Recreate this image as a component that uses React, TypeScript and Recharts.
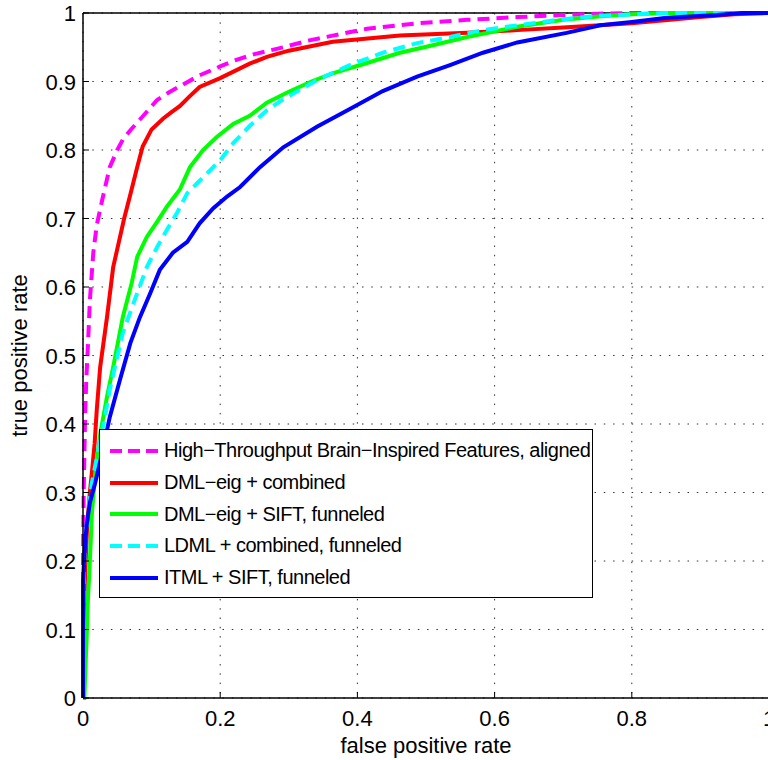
import { LineChart, Line, XAxis, YAxis, CartesianGrid, ReferenceLine } from 'recharts'

// ── ROC curves (false positive rate / true positive rate) ──

const X_TICKS = [0, 0.2, 0.4, 0.6, 0.8, 1]
const Y_TICKS = [0, 0.1, 0.2, 0.3, 0.4, 0.5, 0.6, 0.7, 0.8, 0.9, 1]

const htFpr = [0, 0, 0.001, 0.003, 0.005, 0.007, 0.01, 0.015, 0.02, 0.028, 0.039, 0.05, 0.058, 0.07, 0.079, 0.095, 0.108, 0.125, 0.141, 0.17, 0.2, 0.219, 0.25, 0.292, 0.33, 0.364, 0.414, 0.487, 0.56, 0.633, 0.7, 0.75, 0.8, 1]
const htTpr = [0, 0.2, 0.3, 0.41, 0.47, 0.51, 0.58, 0.65, 0.69, 0.727, 0.775, 0.8, 0.815, 0.83, 0.84, 0.858, 0.873, 0.884, 0.893, 0.909, 0.922, 0.93, 0.94, 0.95, 0.96, 0.967, 0.977, 0.985, 0.99, 0.994, 0.997, 0.999, 1, 1]

const dmlCombFpr = [0, 0.001, 0.003, 0.006, 0.01, 0.014, 0.017, 0.02, 0.025, 0.035, 0.044, 0.051, 0.06, 0.069, 0.079, 0.087, 0.1, 0.117, 0.13, 0.141, 0.155, 0.17, 0.2, 0.243, 0.268, 0.3, 0.364, 0.462, 0.56, 0.633, 0.7, 0.8, 0.9, 0.95, 1]
const dmlCombTpr = [0, 0.1, 0.18, 0.25, 0.3, 0.34, 0.372, 0.42, 0.483, 0.556, 0.629, 0.66, 0.7, 0.735, 0.775, 0.805, 0.83, 0.846, 0.856, 0.864, 0.878, 0.892, 0.905, 0.926, 0.936, 0.945, 0.958, 0.967, 0.971, 0.975, 0.979, 0.985, 0.994, 0.998, 1]

const dmlSiftFpr = [0, 0.002, 0.003, 0.005, 0.007, 0.01, 0.013, 0.018, 0.025, 0.035, 0.044, 0.058, 0.071, 0.079, 0.093, 0.108, 0.122, 0.141, 0.156, 0.175, 0.195, 0.219, 0.243, 0.268, 0.3, 0.333, 0.364, 0.414, 0.462, 0.51, 0.56, 0.633, 0.7, 0.75, 0.8, 0.85, 1]
const dmlSiftTpr = [0, 0, 0.03, 0.08, 0.14, 0.2, 0.27, 0.33, 0.385, 0.44, 0.483, 0.556, 0.606, 0.644, 0.673, 0.695, 0.717, 0.742, 0.775, 0.8, 0.819, 0.838, 0.85, 0.869, 0.885, 0.9, 0.912, 0.927, 0.942, 0.953, 0.965, 0.98, 0.99, 0.995, 0.998, 1, 1]

const ldmlFpr = [0, 0, 0.001, 0.003, 0.007, 0.013, 0.02, 0.025, 0.032, 0.039, 0.058, 0.079, 0.093, 0.108, 0.122, 0.137, 0.152, 0.165, 0.181, 0.2, 0.219, 0.243, 0.268, 0.292, 0.341, 0.389, 0.437, 0.487, 0.535, 0.583, 0.633, 0.7, 0.75, 0.8, 0.85, 1]
const ldmlTpr = [0, 0.12, 0.18, 0.23, 0.27, 0.314, 0.35, 0.377, 0.41, 0.45, 0.533, 0.591, 0.629, 0.658, 0.683, 0.708, 0.737, 0.75, 0.766, 0.785, 0.81, 0.835, 0.858, 0.874, 0.902, 0.924, 0.942, 0.956, 0.965, 0.975, 0.982, 0.991, 0.996, 0.998, 1, 1]

const itmlFpr = [0, 0, 0.002, 0.005, 0.01, 0.018, 0.025, 0.039, 0.054, 0.069, 0.083, 0.098, 0.112, 0.131, 0.152, 0.17, 0.19, 0.21, 0.229, 0.258, 0.292, 0.341, 0.389, 0.437, 0.487, 0.535, 0.583, 0.633, 0.705, 0.754, 0.8, 0.851, 0.924, 0.96, 1]
const itmlTpr = [0, 0.17, 0.21, 0.25, 0.285, 0.315, 0.345, 0.41, 0.465, 0.518, 0.556, 0.591, 0.625, 0.65, 0.666, 0.693, 0.715, 0.732, 0.746, 0.775, 0.804, 0.834, 0.86, 0.886, 0.907, 0.924, 0.942, 0.957, 0.971, 0.982, 0.987, 0.993, 0.997, 1, 1]

const zip = (xs: number[], ys: number[]) => xs.map((x, i) => ({ x, y: ys[i] }))

const SERIES = [
  { name: 'High−Throughput Brain−Inspired Features, aligned', color: '#ff00ff', dash: '12 7', data: zip(htFpr, htTpr) },
  { name: 'DML−eig + combined', color: '#ff0000', dash: undefined, data: zip(dmlCombFpr, dmlCombTpr) },
  { name: 'DML−eig + SIFT, funneled', color: '#00ff00', dash: undefined, data: zip(dmlSiftFpr, dmlSiftTpr) },
  { name: 'LDML + combined, funneled', color: '#00ffff', dash: '12 7', data: zip(ldmlFpr, ldmlTpr) },
  { name: 'ITML + SIFT, funneled', color: '#0000ff', dash: undefined, data: zip(itmlFpr, itmlTpr) },
]

// ─────────────────────────────────────────────────────────────────────────────

const FONT = '"Liberation Sans", Arial, Helvetica, sans-serif'
const fmt = (v: number) => String(Number(v.toFixed(1)))

// MATLAB-style ticks: tick mark points into the plot, label outside
function XTick({ x, y, payload }: any) {
  return (
    <g>
      <line x1={x} y1={y} x2={x} y2={y - 6} stroke="#000" strokeWidth={1} />
      <text x={x} y={y + 28} textAnchor="middle" fontSize={22} fontFamily={FONT} fill="#000">
        {fmt(payload.value)}
      </text>
    </g>
  )
}

function YTick({ x, y, payload }: any) {
  return (
    <g>
      <line x1={x} y1={y} x2={x + 6} y2={y} stroke="#000" strokeWidth={1} />
      <text x={x - 7} y={y + 8} textAnchor="end" fontSize={22} fontFamily={FONT} fill="#000">
        {fmt(payload.value)}
      </text>
    </g>
  )
}

function XLabel({ viewBox }: any) {
  const { x, y, width } = viewBox
  return (
    <text x={x + width / 2} y={y + 55} textAnchor="middle" fontSize={22} fontFamily={FONT} fill="#000">
      false positive rate
    </text>
  )
}

function YLabel({ viewBox }: any) {
  const { y, height } = viewBox
  const cx = 27
  const cy = y + height / 2
  return (
    <text x={cx} y={cy} transform={`rotate(-90 ${cx} ${cy})`} textAnchor="middle" fontSize={22} fontFamily={FONT} fill="#000">
      true positive rate
    </text>
  )
}

function LegendBox() {
  return (
    <div
      style={{
        position: 'absolute',
        left: 99,
        top: 429,
        boxSizing: 'border-box',
        width: 494,
        height: 169,
        border: '1.5px solid #000',
        background: '#fff',
        paddingTop: 5,
        fontFamily: FONT,
        fontSize: 20,
        letterSpacing: -0.5,
        color: '#000',
      }}
    >
      {SERIES.map((s) => (
        <div key={s.name} style={{ height: 31.7, display: 'flex', alignItems: 'center', whiteSpace: 'nowrap' }}>
          <svg width={62} height={10} style={{ flex: 'none' }}>
            <line x1={10} y1={5} x2={58} y2={5} stroke={s.color} strokeWidth={4} strokeDasharray={s.dash ? '12 6' : undefined} />
          </svg>
          <span style={{ marginLeft: 2 }}>{s.name}</span>
        </div>
      ))}
    </div>
  )
}

export default function App() {
  return (
    <div style={{ position: 'absolute', left: 0, top: 0, width: 768, height: 760, overflow: 'hidden', background: '#fff' }}>
      <LineChart width={780} height={760} margin={{ top: 13, right: 11, bottom: 0, left: 0 }}>
        <CartesianGrid stroke="#333" strokeDasharray="1.5 7.8" strokeWidth={1} />
        <XAxis
          type="number"
          dataKey="x"
          domain={[0, 1]}
          ticks={X_TICKS}
          height={62}
          tickSize={0}
          tickMargin={0}
          tickLine={false}
          axisLine={{ stroke: '#000', strokeWidth: 1.5 }}
          tick={<XTick />}
          interval={0}
          allowDuplicatedCategory={false}
          label={<XLabel />}
        />
        <YAxis
          type="number"
          dataKey="y"
          domain={[0, 1]}
          ticks={Y_TICKS}
          width={83}
          tickSize={0}
          tickMargin={0}
          tickLine={false}
          axisLine={{ stroke: '#000', strokeWidth: 1.5 }}
          tick={<YTick />}
          interval={0}
          label={<YLabel />}
        />
        <ReferenceLine y={1} stroke="#000" strokeWidth={1.5} />
        {SERIES.map((s) => (
          <Line
            key={s.name}
            data={s.data}
            dataKey="y"
            name={s.name}
            type="linear"
            stroke={s.color}
            strokeWidth={4}
            strokeDasharray={s.dash}
            dot={false}
            activeDot={false}
            isAnimationActive={false}
          />
        ))}
      </LineChart>
      <LegendBox />
    </div>
  )
}
